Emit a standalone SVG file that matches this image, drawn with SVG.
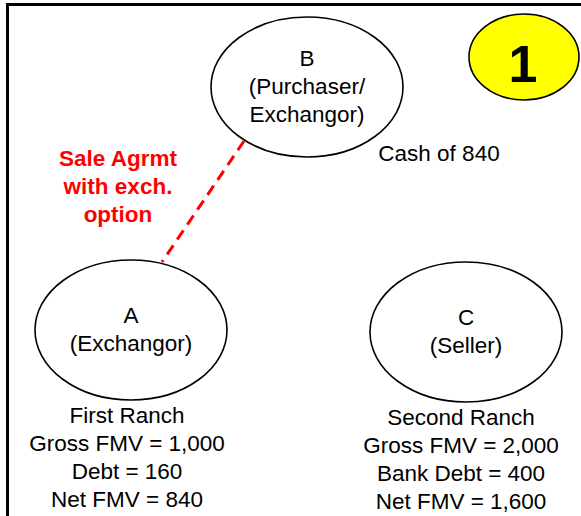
<svg xmlns="http://www.w3.org/2000/svg" width="581" height="516" viewBox="0 0 581 516">
  <style>
    .node { fill: #ffffff; stroke: #000000; stroke-width: 1.6; }
    .lbl { font-family: "Liberation Sans", Arial, sans-serif; font-size: 22.5px; fill: #000000; text-anchor: middle; }
    .red { font-family: "Liberation Sans", Arial, sans-serif; font-size: 22.5px; font-weight: bold; fill: #ff0000; text-anchor: middle; }
    .link { stroke: #ff0000; stroke-width: 3; stroke-dasharray: 11 7; fill: none; }
  </style>
  <rect x="0" y="0" width="581" height="516" fill="#ffffff"/>
  <!-- outer frame, continues past the right and bottom edges -->
  <rect x="7.5" y="4.5" width="640" height="600" fill="none" stroke="#000000" stroke-width="3"/>

  <g id="connectors">
    <line class="link" x1="244" y1="141" x2="162" y2="262"/>
  </g>

  <g id="badge">
    <ellipse cx="524" cy="57" rx="55" ry="43" fill="#ffff00" stroke="#000000" stroke-width="1.6"/>
    <text x="523" y="82" font-family="Liberation Sans, Arial, sans-serif" font-size="52" font-weight="bold" text-anchor="middle" fill="#000000">1</text>
  </g>

  <g id="node-b">
    <ellipse class="node" cx="307" cy="87" rx="96" ry="70"/>
    <text class="lbl" x="307" y="66">B</text>
    <text class="lbl" x="307" y="94">(Purchaser/</text>
    <text class="lbl" x="307" y="122">Exchangor)</text>
  </g>

  <g id="node-a">
    <ellipse class="node" cx="131" cy="330" rx="96" ry="70"/>
    <text class="lbl" x="131" y="323">A</text>
    <text class="lbl" x="131" y="351">(Exchangor)</text>
  </g>

  <g id="node-c">
    <ellipse class="node" cx="466" cy="332" rx="96" ry="70"/>
    <text class="lbl" x="466" y="325">C</text>
    <text class="lbl" x="466" y="353">(Seller)</text>
  </g>

  <g id="label-agreement">
    <text class="red" x="118" y="166">Sale Agrmt</text>
    <text class="red" x="118" y="194">with exch.</text>
    <text class="red" x="118" y="222">option</text>
  </g>

  <g id="label-cash">
    <text class="lbl" x="439" y="161">Cash of 840</text>
  </g>

  <g id="label-first-ranch">
    <text class="lbl" x="127" y="423">First Ranch</text>
    <text class="lbl" x="127" y="451">Gross FMV = 1,000</text>
    <text class="lbl" x="127" y="479">Debt = 160</text>
    <text class="lbl" x="127" y="507">Net FMV = 840</text>
  </g>

  <g id="label-second-ranch">
    <text class="lbl" x="461" y="425">Second Ranch</text>
    <text class="lbl" x="461" y="453">Gross FMV = 2,000</text>
    <text class="lbl" x="461" y="481">Bank Debt = 400</text>
    <text class="lbl" x="461" y="509">Net FMV = 1,600</text>
  </g>
</svg>
